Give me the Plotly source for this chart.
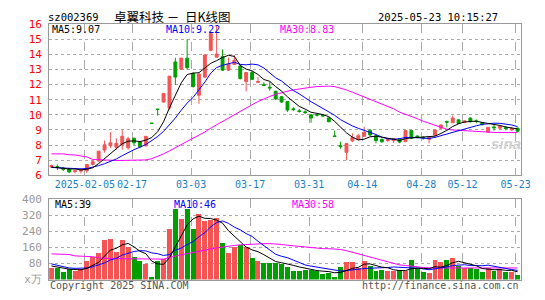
import plotly.graph_objects as go

# ---------------- data ----------------
dates = ["01-20","01-21","01-22","01-23","01-24","01-27","02-05","02-06","02-07","02-10",
         "02-11","02-12","02-13","02-14","02-17","02-18","02-19","02-20","02-21","02-24",
         "02-25","02-26","02-27","02-28","03-03","03-04","03-05","03-06","03-07","03-10",
         "03-11","03-12","03-13","03-14","03-17","03-18","03-19","03-20","03-21","03-24",
         "03-25","03-26","03-27","03-28","03-31","04-01","04-02","04-03","04-07","04-08",
         "04-09","04-10","04-11","04-14","04-15","04-16","04-17","04-18","04-21","04-22",
         "04-23","04-24","04-25","04-28","04-29","04-30","05-06","05-07","05-08","05-09",
         "05-12","05-13","05-14","05-15","05-16","05-19","05-20","05-21","05-22","05-23"]

opens = [6.55,6.58,6.48,6.42,6.24,6.28,6.30,6.72,6.95,7.67,
         7.96,7.85,8.02,7.82,8.45,8.20,7.95,9.45,10.38,10.85,
         10.46,13.50,13.02,13.75,12.75,11.30,12.50,14.27,13.82,13.85,
         12.96,13.33,13.23,12.20,12.80,12.15,12.00,11.83,11.56,11.20,
         10.88,10.40,10.27,10.20,10.00,10.02,9.98,9.80,8.60,7.95,
         7.52,8.28,8.38,8.58,8.98,8.62,8.38,8.30,8.30,8.42,
         8.23,8.96,8.60,8.50,8.38,8.65,9.12,9.56,9.48,9.67,
         9.50,9.79,9.60,9.48,8.86,9.20,9.12,9.15,9.00,9.12]
highs = [6.72,6.72,6.55,6.45,6.38,6.45,6.75,7.00,7.62,8.30,
         8.85,8.45,9.00,8.55,8.50,8.25,8.60,9.46,10.40,11.45,
         12.56,13.78,13.78,15.00,12.80,12.75,14.00,15.45,15.90,14.33,
         13.79,13.95,13.30,12.85,12.90,12.50,12.15,12.19,11.60,11.25,
         10.90,10.50,10.40,10.30,10.05,10.10,10.05,9.85,8.96,8.23,
         8.15,8.78,8.75,9.22,9.05,8.65,8.42,8.42,8.45,8.45,
         8.98,8.98,8.65,8.60,8.55,9.02,9.35,9.62,9.96,9.70,
         9.65,9.82,9.70,9.52,9.20,9.38,9.30,9.25,9.20,9.15]
lows = [6.50,6.35,6.28,6.15,6.12,6.12,6.15,6.65,6.90,7.50,
        7.80,7.70,7.70,7.70,7.98,7.80,7.90,9.42,9.95,10.80,
        10.35,11.98,12.98,13.00,11.80,10.73,12.45,14.20,13.80,12.90,
        12.92,13.30,12.35,11.56,12.30,12.10,11.90,11.60,11.00,10.80,
        10.20,10.25,10.15,10.05,9.48,9.90,9.85,9.50,8.56,7.75,
        7.00,8.20,8.30,8.55,8.60,8.12,8.15,8.20,8.15,8.12,
        8.20,8.40,8.45,8.35,8.12,8.60,9.05,9.17,9.45,9.40,
        9.45,9.50,9.45,9.30,8.85,8.96,9.05,8.98,8.95,8.88]
closes = [6.65,6.52,6.40,6.22,6.30,6.36,6.72,6.90,7.60,8.02,
          8.15,8.12,8.58,8.42,8.15,7.90,8.58,9.44,10.36,11.42,
          12.56,12.50,13.75,13.12,11.88,12.70,13.96,15.37,14.02,12.96,
          13.37,13.62,12.40,12.80,12.35,12.20,11.95,11.78,11.05,10.85,
          10.32,10.35,10.22,10.15,9.80,9.98,9.93,9.55,8.58,7.90,
          8.10,8.50,8.62,8.85,8.67,8.30,8.22,8.36,8.42,8.20,
          8.96,8.45,8.50,8.48,8.52,9.00,9.33,9.52,9.79,9.43,
          9.60,9.55,9.56,9.35,9.17,9.15,9.25,9.10,9.10,8.92]

ma5 = [6.55,6.50,6.46,6.42,6.42,6.36,6.40,6.50,6.78,7.12,
       7.48,7.76,8.09,8.26,8.28,8.23,8.33,8.50,8.89,9.54,
       10.47,11.26,12.12,12.67,12.76,12.79,13.08,13.41,13.59,13.80,
       13.94,13.87,13.27,13.03,12.91,12.67,12.34,12.22,11.87,11.57,
       11.19,10.87,10.56,10.38,10.17,10.10,10.02,9.88,9.57,9.19,
       8.81,8.53,8.34,8.39,8.55,8.59,8.53,8.48,8.39,8.30,
       8.43,8.48,8.51,8.52,8.58,8.59,8.77,8.97,9.23,9.41,
       9.53,9.58,9.59,9.50,9.45,9.36,9.30,9.20,9.15,9.07]
ma10 = [6.52,6.50,6.48,6.46,6.44,6.43,6.45,6.52,6.64,6.77,
        6.92,7.08,7.30,7.52,7.70,7.86,8.04,8.30,8.57,8.91,
        9.35,9.79,10.31,10.78,11.15,11.63,12.17,12.76,13.13,13.28,
        13.36,13.48,13.34,13.31,13.36,13.31,13.10,12.75,12.45,12.24,
        11.93,11.61,11.39,11.12,10.87,10.65,10.44,10.22,9.97,9.68,
        9.46,9.27,9.11,8.98,8.87,8.70,8.53,8.41,8.39,8.42,
        8.51,8.51,8.49,8.46,8.44,8.51,8.62,8.74,8.88,9.00,
        9.06,9.17,9.28,9.37,9.43,9.45,9.44,9.40,9.33,9.22]
ma30 = [7.42,7.42,7.42,7.36,7.35,7.28,7.22,7.05,7.02,7.00,
        7.00,6.98,6.98,6.98,6.98,6.98,7.02,7.10,7.25,7.42,
        7.62,7.82,8.03,8.24,8.43,8.63,8.87,9.12,9.35,9.57,
        9.79,10.02,10.23,10.45,10.67,10.88,11.06,11.22,11.35,11.47,
        11.57,11.65,11.72,11.78,11.83,11.87,11.90,11.90,11.87,11.78,
        11.65,11.50,11.35,11.20,11.05,10.88,10.72,10.55,10.40,10.18,
        10.05,9.92,9.75,9.58,9.45,9.30,9.15,9.05,9.00,8.97,
        8.95,8.93,8.92,8.90,8.87,8.84,8.83,8.83,8.83,8.83]

volume = [59,56,40,53,43,53,91,112,130,197,
          203,139,197,163,115,91,78,14,94,104,
          254,350,302,350,254,325,294,299,307,182,
          134,160,171,163,110,91,83,83,83,80,
          64,43,43,48,48,43,29,34,14,62,
          86,86,59,91,69,43,48,43,43,46,
          43,96,56,37,34,96,86,96,107,69,
          59,56,53,37,56,45,53,37,37,24]
vma5 = [68,62,56,52,50,49,56,70,86,117,
        147,156,173,180,163,141,129,92,78,76,
        109,163,221,272,302,316,305,304,296,281,
        243,216,191,162,148,139,124,106,90,84,
        79,71,63,56,49,45,42,40,34,36,
        45,56,61,77,78,70,62,59,49,45,
        45,54,57,56,54,64,62,70,84,91,
        83,77,69,55,52,49,50,46,46,39]
vma10 = [78,72,64,58,56,56,58,64,73,83,
         98,106,122,133,140,144,143,133,129,120,
         125,146,157,175,189,213,234,263,284,292,
         280,261,248,229,215,191,170,148,126,116,
         109,97,84,73,67,62,56,52,45,43,
         45,49,51,55,57,57,59,60,63,61,
         57,58,58,52,49,54,58,63,70,72,
         74,70,69,69,72,66,63,57,50,46]
vma30 = [128,127,126,125,118,116,115,114,108,106,
         105,104,104,104,103,102,101,101,101,102,
         110,118,124,129,134,140,146,152,158,163,
         166,170,173,175,177,178,179,179,178,175,
         171,168,165,162,159,155,154,154,152,150,
         144,136,128,119,113,103,95,87,78,73,
         70,68,64,60,58,58,58,58,59,59,
         59,59,59,59,59,59,59,59,59,58]

tick_idx = [6, 14, 24, 34, 44, 53, 63, 70, 79]
tick_text = ["2025-02-05", "02-17", "03-03", "03-17", "03-31", "04-14", "04-28", "05-12", "05-23"]
price_ticks = [6, 7, 8, 9, 10, 11, 12, 13, 14, 15, 16]
vol_ticks = [0, 80, 160, 240, 320, 400]
vol_tick_text = ["x万", "80", "160", "240", "320", "400"]

# ---------------- styling ----------------
W, H = 545, 300
RED = "#f45454"
GREEN = "#009f00"
MONO = "DejaVu Sans Mono"
GRID = "#aaaaaa"
FRAME = "#999999"

x = list(range(len(closes)))
xr = [-0.383, 79.617]
grid_x = [i - 0.333 for i in tick_idx]

def px(xp):
    return xp / W

def py(yp):
    return 1 - yp / H

fig = go.Figure()

fig.add_trace(go.Candlestick(
    x=x, open=opens, high=highs, low=lows, close=closes,
    increasing=dict(line=dict(color=RED, width=1), fillcolor=RED),
    decreasing=dict(line=dict(color=GREEN, width=1), fillcolor=GREEN),
    xaxis="x", yaxis="y", showlegend=False, hoverinfo="skip"))

for vals, col in [(ma30, "#ff00ff"), (ma10, "#0000ff"), (ma5, "#000000")]:
    fig.add_trace(go.Scatter(x=x, y=vals, mode="lines", line=dict(color=col, width=1),
                             xaxis="x", yaxis="y", showlegend=False, hoverinfo="skip"))

vol_colors = [RED if c >= o else GREEN for o, c in zip(opens, closes)]
fig.add_trace(go.Bar(x=x, y=volume, marker=dict(color=vol_colors, line=dict(width=0)),
                     width=0.84, xaxis="x2", yaxis="y2", showlegend=False, hoverinfo="skip"))
for vals, col in [(vma30, "#ff00ff"), (vma10, "#0000ff"), (vma5, "#000000")]:
    fig.add_trace(go.Scatter(x=x, y=vals, mode="lines", line=dict(color=col, width=1),
                             xaxis="x2", yaxis="y2", showlegend=False, hoverinfo="skip"))

xdom = [50 / W, 530 / W]
common_x = dict(domain=xdom, range=xr, tickmode="array", tickvals=grid_x,
                showgrid=True, gridcolor=GRID, griddash="dash", gridwidth=1,
                showline=True, linecolor=FRAME, linewidth=1, mirror=True,
                ticks="", zeroline=False, fixedrange=True, tickangle=0)

annotations = []
def note(text, xp, yp, color, size=10, family=MONO, xanchor="left"):
    annotations.append(dict(text=text, x=px(xp), y=py(yp), xref="paper", yref="paper",
                            xanchor=xanchor, yanchor="middle", showarrow=False,
                            font=dict(color=color, size=size, family=family)))

NB = "\u00a0"
note("sz002369", 47, 11, "#000000", 10.5)
note("卓翼科技" + NB + "－" + NB * 2 + "日K线图", 114, 11, "#000000", 12.5, "Noto Sans CJK SC")
note("2025-05-23 10:15:27", 508, 11, "#000000", 10.5, xanchor="right")
note("MA5:9.07", 51, 25, "#000000")
note("MA10:9.22", 167, 25, "#0000ff")
note("MA30:8.83", 283, 25, "#ff00ff")
note("MA5:39", 54, 207, "#000000")
note("MA10:46", 175, 207, "#0000ff")
note("MA30:58", 295, 207, "#ff00ff")
note("Copyright 2025 SINA.COM", 49, 292, "#555555")
note("http://finance.sina.com.cn", 530, 292, "#555555", xanchor="right")
note("<b><i>sina</i></b>", 514, 144, "#d0d0d0", 15, "Liberation Sans", xanchor="center")

fig.update_layout(
    width=W, height=H, margin=dict(l=0, r=0, t=0, b=0),
    paper_bgcolor="white", plot_bgcolor="white",
    xaxis=dict(**common_x, anchor="y", ticktext=tick_text, showticklabels=True,
               tickfont=dict(color="#1b7fc4", size=10, family=MONO),
               rangeslider=dict(visible=False)),
    yaxis=dict(domain=[py(177), py(19)], range=[6, 16], tickmode="array", tickvals=price_ticks,
               tickfont=dict(color="#ff0000", size=11, family=MONO),
               showgrid=True, gridcolor=GRID, griddash="dot", gridwidth=1,
               showline=True, linecolor=FRAME, linewidth=1, mirror=True,
               ticks="", ticklabelstandoff=4, zeroline=False, fixedrange=True),
    xaxis2=dict(**common_x, anchor="y2", ticktext=tick_text, showticklabels=False),
    yaxis2=dict(domain=[py(286), py(202)], range=[0, 400], tickmode="array", tickvals=vol_ticks,
                ticktext=vol_tick_text, tickfont=dict(color="#999999", size=11, family=MONO),
                showgrid=True, gridcolor=GRID, griddash="dot", gridwidth=1,
                showline=True, linecolor=FRAME, linewidth=1, mirror=True,
                ticks="", ticklabelstandoff=4, zeroline=False, fixedrange=True),
    annotations=annotations,
    bargap=0,
)

fig.write_html("out.html", config={"displayModeBar": False, "staticPlot": True},
               post_script="document.body.style.margin='0';")
